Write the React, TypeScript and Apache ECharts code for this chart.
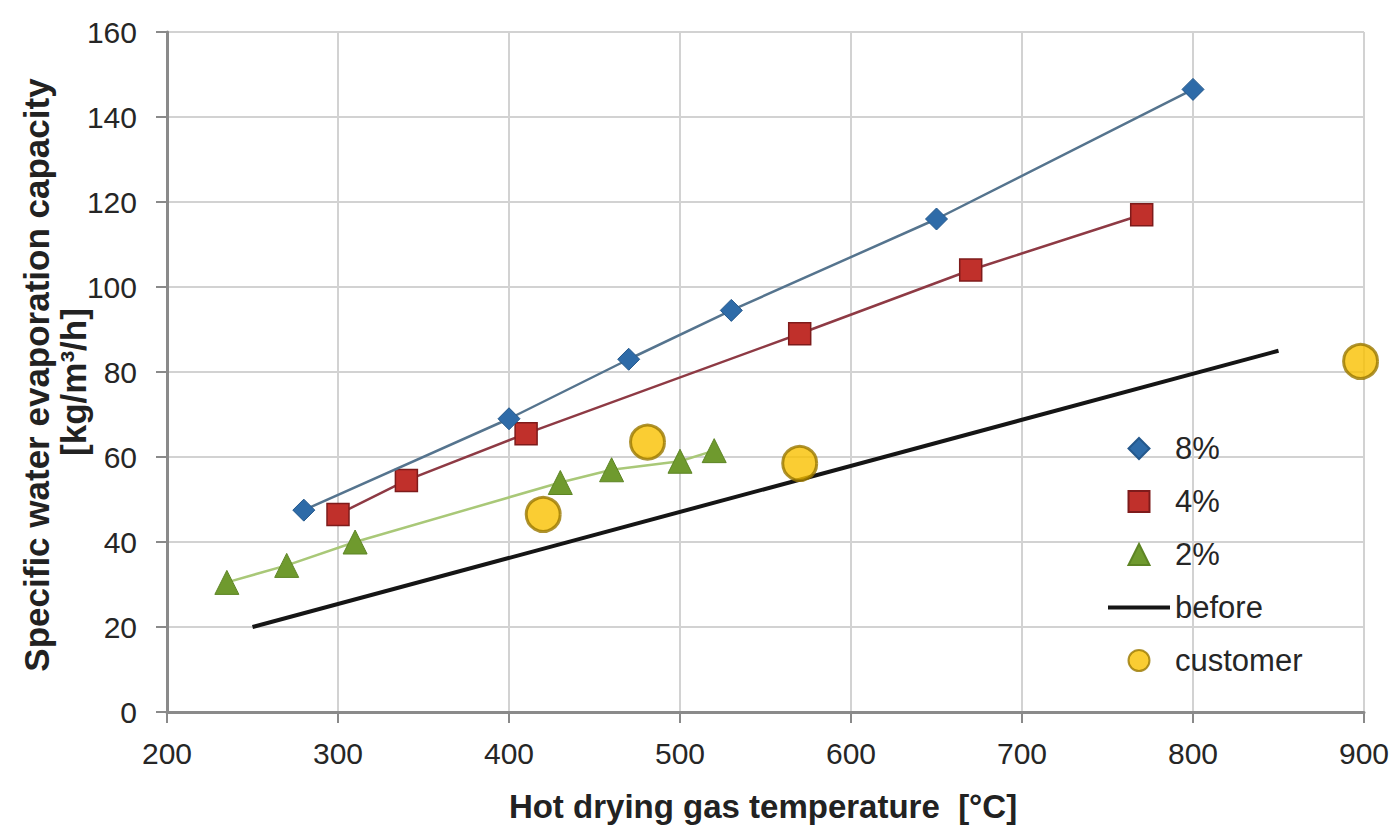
import React, { useEffect, useRef } from "react";
import * as echarts from "echarts";

const FONT = '"Liberation Sans", Arial, sans-serif';

// Data: [temperature °C, capacity kg/m³/h]
const pct8: [number, number][] = [
  [280, 47.5], [400, 69], [470, 83], [530, 94.5], [650, 116], [800, 146.5],
];
const pct4: [number, number][] = [
  [300, 46.5], [340, 54.5], [410, 65.5], [570, 89], [670, 104], [770, 117],
];
const pct2: [number, number][] = [
  [235, 30.5], [270, 34.5], [310, 40], [430, 54], [460, 57], [500, 59], [520, 61.5],
];
const before: [number, number][] = [
  [250, 20], [850, 85],
];
const customer: [number, number][] = [
  [420, 46.5], [481, 63.5], [570, 58.5], [898, 82.5],
];

const xTicks = { min: 200, max: 900, interval: 100 };
const yTicks = { min: 0, max: 160, interval: 20 };

const xTitle = "Hot drying gas temperature  [°C]";
const yTitle1 = "Specific water evaporation capacity";
const yTitle2 = "[kg/m³/h]";

const ICON_DIAMOND = "path://M10,0 L20,10 L10,20 L0,10 Z";
const ICON_RECT = "path://M0,0 L20,0 L20,20 L0,20 Z";
const ICON_TRIANGLE = "path://M10,0 L20,20 L0,20 Z";
const ICON_CIRCLE = "path://M0,10 A10,10 0 1,1 20,10 A10,10 0 1,1 0,10 Z";
const ICON_LINE = "path://M0,0 L62,0 L62,4 L0,4 Z";

export default function App() {
  const ref = useRef<HTMLDivElement>(null);
  useEffect(() => {
    if (!ref.current) return;
    const chart = echarts.init(ref.current, undefined, { renderer: "svg" });
    const axisLine = { show: true, lineStyle: { color: "#8a8a8a", width: 3 } };
    const axisTick = { show: true, inside: false, length: 11, lineStyle: { color: "#8a8a8a", width: 2 } };
    const splitLine = { show: true, lineStyle: { color: "#d2d2d2", width: 2 } };
    const label = { fontFamily: FONT, fontSize: 30, color: "#262626" };
    chart.setOption({
      animation: false,
      backgroundColor: "#fff",
      grid: { left: 167, right: 33, top: 32, bottom: 121, containLabel: false },
      xAxis: {
        type: "value",
        min: xTicks.min,
        max: xTicks.max,
        interval: xTicks.interval,
        axisLine,
        axisTick,
        splitLine,
        axisLabel: { ...label, margin: 26 },
      },
      yAxis: {
        type: "value",
        min: yTicks.min,
        max: yTicks.max,
        interval: yTicks.interval,
        axisLine,
        axisTick,
        splitLine,
        axisLabel: { ...label, margin: 30 },
      },
      legend: {
        orient: "vertical",
        left: 1103,
        top: 428,
        itemWidth: 62,
        itemHeight: 21,
        itemGap: 22,
        symbolKeepAspect: true,
        textStyle: { fontFamily: FONT, fontSize: 31, color: "#262626" },
        data: [
          { name: "8%", icon: ICON_DIAMOND },
          { name: "4%", icon: ICON_RECT },
          { name: "2%", icon: ICON_TRIANGLE },
          { name: "before", icon: ICON_LINE },
          { name: "customer", icon: ICON_CIRCLE },
        ],
      },
      graphic: [
        {
          type: "text",
          x: 36,
          y: 375,
          rotation: Math.PI / 2,
          style: {
            text: yTitle1,
            fontFamily: FONT,
            fontSize: 35,
            fontWeight: "bold",
            fill: "#222",
            align: "center",
            verticalAlign: "middle",
          },
        },
        {
          type: "text",
          x: 73,
          y: 382,
          rotation: Math.PI / 2,
          style: {
            text: yTitle2,
            fontFamily: FONT,
            fontSize: 35,
            fontWeight: "bold",
            fill: "#222",
            align: "center",
            verticalAlign: "middle",
          },
        },
        {
          type: "text",
          x: 763,
          y: 806,
          style: {
            text: xTitle,
            fontFamily: FONT,
            fontSize: 33,
            fontWeight: "bold",
            fill: "#222",
            align: "center",
            verticalAlign: "middle",
          },
        },
      ],
      series: [
        {
          name: "before",
          type: "line",
          data: before,
          symbol: "none",
          showSymbol: false,
          itemStyle: { color: "#151515" },
          lineStyle: { color: "#151515", width: 4 },
          z: 2,
        },
        {
          name: "2%",
          type: "line",
          data: pct2,
          symbol: "triangle",
          symbolSize: 24,
          itemStyle: { color: "#6f9a2e", borderColor: "#5d8424", borderWidth: 1 },
          lineStyle: { color: "#a9c878", width: 2.5 },
          z: 3,
        },
        {
          name: "4%",
          type: "line",
          data: pct4,
          symbol: "rect",
          symbolSize: 22,
          itemStyle: { color: "#c0302b", borderColor: "#7e1b1b", borderWidth: 1.5 },
          lineStyle: { color: "#8e3a44", width: 2.5 },
          z: 4,
        },
        {
          name: "8%",
          type: "line",
          data: pct8,
          symbol: "diamond",
          symbolSize: 22,
          itemStyle: { color: "#2e6ba8", borderColor: "#24588c", borderWidth: 1 },
          lineStyle: { color: "#55748e", width: 2.5 },
          z: 5,
        },
        {
          name: "customer",
          type: "scatter",
          data: customer,
          symbol: "circle",
          symbolSize: 34,
          itemStyle: { color: "#f9c000", borderColor: "#9a7800", borderWidth: 3 },
          z: 6,
        },
      ],
    });
    return () => chart.dispose();
  }, []);
  return <div ref={ref} style={{ width: 1397, height: 833, position: "absolute", left: 0, top: 0 }} />;
}
